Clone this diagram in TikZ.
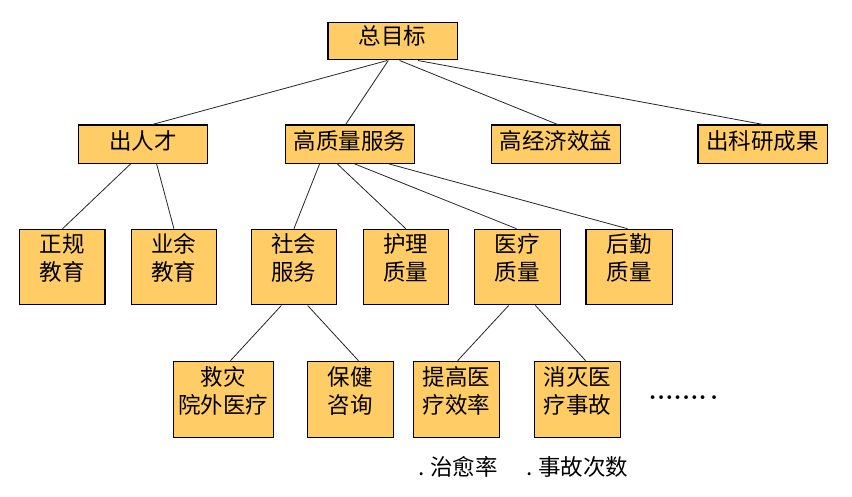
\documentclass[tikz,border=0pt]{standalone}
\usepackage{fontspec}
\newfontfamily\cjk{Noto Sans CJK SC}
\definecolor{boxfill}{HTML}{FFCC66}
\tikzset{
  box/.style={draw=black, fill=boxfill, line width=1.2pt, inner sep=0pt, anchor=north west,
              font=\cjk\fontsize{22.5}{28.5}\selectfont},
  link/.style={line width=0.8pt, draw=black!85},
  lbl/.style={inner sep=0pt, anchor=base west, font=\cjk\fontsize{22.5}{28.5}\selectfont},
}
\newcommand\bx[4]{\parbox[t][#2pt][t]{#1pt}{\centering\rule{0pt}{#3pt}#4}}
\begin{document}
\begin{tikzpicture}[x=1pt,y=-1pt]
\fill[white] (0,0) rectangle (852,497);
\useasboundingbox (0,0) rectangle (852,497);
% row 1
\node[box] (top) at (327.3,21.7) {\bx{129.4}{37.6}{22.7}{总目标}};
% row 2
\node[box] (rc) at (78,124.5) {\bx{129}{38.2}{24.5}{出人才}};
\node[box] (gz) at (285,124.5) {\bx{129}{38.2}{24.5}{高质量服务}};
\node[box] (jj) at (490.7,124.5) {\bx{129.3}{38.2}{24.5}{高经济效益}};
\node[box] (ky) at (697.3,124.5) {\bx{129.4}{38.2}{24.5}{出科研成果}};
% row 3
\node[box] (zg) at (18.7,228.7) {\bx{85.6}{75.6}{23}{正规\\教育}};
\node[box] (yy) at (130.7,228.7) {\bx{85.3}{75.6}{23}{业余\\教育}};
\node[box] (sh) at (250.7,228.7) {\bx{85.3}{75.6}{23}{社会\\服务}};
\node[box] (hl) at (362.7,228.7) {\bx{85}{75.6}{23}{护理\\质量}};
\node[box] (yl) at (473.7,228.7) {\bx{86.3}{75.6}{23}{医疗\\质量}};
\node[box] (hq) at (585.3,228.7) {\bx{86.4}{75.6}{23}{后勤\\质量}};
% row 4
\node[box] (jz) at (172.7,360.7) {\bx{100.3}{76}{24}{救灾\\院外医疗}};
\node[box] (bj) at (306.7,360.7) {\bx{86.3}{76}{24}{保健\\咨询}};
\node[box] (tg) at (413,360.7) {\bx{86}{76}{24}{提高医\\疗效率}};
\node[box] (xm) at (534,360.7) {\bx{86}{76}{24}{消灭医\\疗事故}};
% extra texts
\node[inner sep=0pt, anchor=base west, font=\bfseries\fontsize{26}{26}\selectfont] (dots) at (648.5,399)
  {.\kern0.2pt.\kern0.2pt.\kern0.2pt.\kern0.2pt.\kern0.2pt.\kern0.2pt.\kern3.2pt.};
\node[lbl] (zy) at (418,475) {.\hspace{6pt}治愈率};
\node[lbl] (sg) at (526,475) {.\hspace{6pt}事故次数};
% connectors
\draw[link] ([xshift=-5.3pt]top.south) -- ([xshift=9.2pt]rc.north);
\draw[link] ([xshift=-4.3pt]top.south) -- ([xshift=-4.5pt]gz.north);
\draw[link] ([xshift=7pt]top.south) -- ([xshift=1.7pt]jj.north);
\draw[link] ([xshift=25.4pt]top.south) -- ([xshift=0.7pt]ky.north);
\draw[link] ([xshift=-12.5pt]rc.south) -- ([xshift=0.5pt]zg.north);
\draw[link] ([xshift=13.5pt]rc.south) -- (yy.north);
\draw[link] ([xshift=-30.5pt]gz.south) -- (sh.north);
\draw[link] ([xshift=-12.8pt]gz.south) -- (hl.north);
\draw[link] ([xshift=4.5pt]gz.south) -- ([xshift=-1pt]yl.north);
\draw[link] ([xshift=38.8pt]gz.south) -- ([xshift=-1.5pt]hq.north);
\draw[link] ([xshift=-12.6pt]sh.south) -- ([xshift=7pt]jz.north);
\draw[link] ([xshift=13.7pt]sh.south) -- ([xshift=8pt]bj.north);
\draw[link] ([xshift=-8.8pt]yl.south) -- ([xshift=1pt]tg.north);
\draw[link] ([xshift=18pt]yl.south) -- ([xshift=8pt]xm.north);
\end{tikzpicture}
\end{document}
